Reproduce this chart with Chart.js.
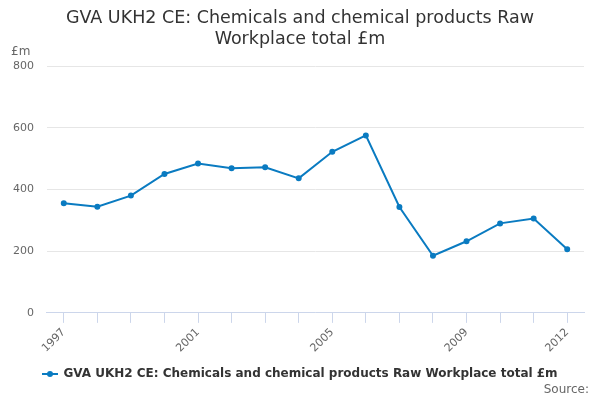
<!DOCTYPE html>
<html><head><meta charset="utf-8">
<script src="https://cdn.jsdelivr.net/npm/chart.js@4/dist/chart.umd.min.js"></script>
<style>
html,body{margin:0;padding:0;background:#fff;}
#wrap{position:relative;width:600px;height:400px;font-family:"DejaVu Sans",sans-serif;}
#title{position:absolute;left:0;width:600px;top:7px;text-align:center;font-size:17.5px;line-height:21px;color:#333;}
#unit{position:absolute;left:11px;top:44px;font-size:12px;color:#666;}
#legend{position:absolute;left:0;width:600px;top:366px;text-align:center;font-size:12px;font-weight:bold;color:#333;}
#legend .sym{display:inline-block;position:relative;width:16px;height:10px;vertical-align:middle;margin-right:5px;}
#legend .sym:before{content:"";position:absolute;left:0;right:0;top:4px;height:2px;background:#0a7bc1;}
#legend .sym:after{content:"";position:absolute;left:5px;top:2px;width:6px;height:6px;border-radius:3px;background:#0a7bc1;}
#source{position:absolute;right:11px;top:382px;font-size:12px;color:#666;}
</style></head>
<body><div id="wrap">
<canvas id="c" width="600" height="400"></canvas>
<div id="title"></div>
<div id="unit">£m</div>
<div id="legend"><span class="sym"></span><span id="lname"></span></div>
<div id="source">Source:</div>
</div>
<script>
const categories = ["1997","1998","1999","2000","2001","2002","2003","2004","2005","2006","2007","2008","2009","2010","2011","2012"];
const values = [355,344,380,450,484,469,472,436,522,575,343,185,232,290,306,206];
const shownLabels = ["1997","2001","2005","2009","2012"];
const yTicks = [0,200,400,600,800];
const seriesName = "GVA UKH2 CE: Chemicals and chemical products Raw Workplace total £m";
const titleLines = ["GVA UKH2 CE: Chemicals and chemical products Raw","Workplace total £m"];

document.getElementById('title').innerHTML = titleLines.map(t => t.replace(/&/g,'&amp;').replace(/</g,'&lt;')).join('<br>');
document.getElementById('lname').textContent = seriesName;

new Chart(document.getElementById('c'), {
  type: 'line',
  data: { labels: categories, datasets: [{
    label: seriesName, data: values, borderColor: '#0a7bc1', backgroundColor: '#0a7bc1',
    borderWidth: 2, pointRadius: 2, pointHoverRadius: 2, tension: 0, fill: false
  }]},
  options: {
    responsive: false, animation: false, devicePixelRatio: 1,
    layout: { padding: { left: 0, right: 16, top: 66, bottom: 42 } },
    plugins: { legend: { display: false }, tooltip: { enabled: false }, title: { display: false } },
    scales: {
      x: {
        offset: true,
        grid: { drawOnChartArea: false, drawTicks: true, tickLength: 10, color: '#ccd6eb' },
        border: { color: '#ccd6eb' },
        ticks: { autoSkip: false, maxRotation: 45, minRotation: 45, color: '#666', font: { family: 'DejaVu Sans', size: 11 },
          callback: function(v){ const l = this.getLabelForValue(v); return shownLabels.includes(l) ? l : ''; } }
      },
      y: {
        min: 0, max: 800,
        afterBuildTicks: (ax) => { ax.ticks = yTicks.map(v => ({ value: v })); },
        grid: { color: '#e6e6e6', drawTicks: false },
        border: { display: false },
        ticks: { color: '#666', padding: 13, font: { family: 'DejaVu Sans', size: 11 } }
      }
    }
  }
});
</script>
</body></html>
